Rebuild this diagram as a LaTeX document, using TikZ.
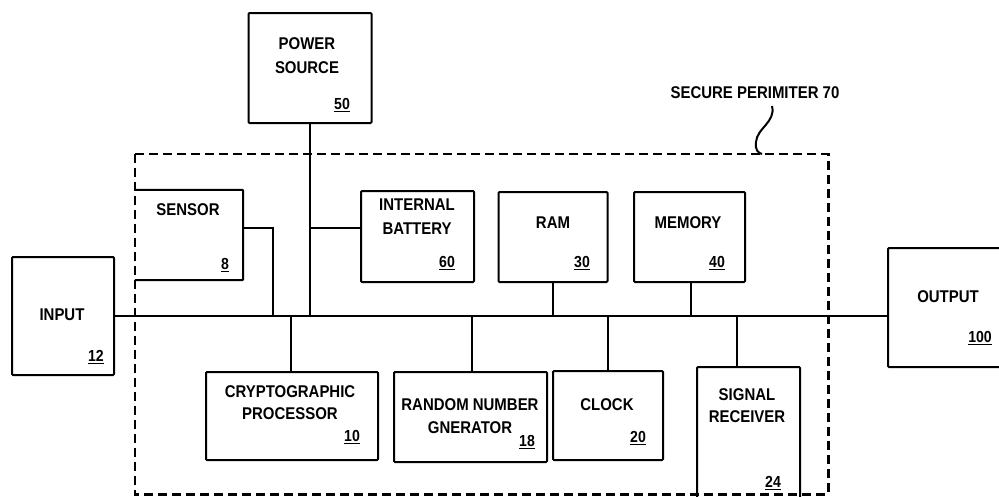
\documentclass[tikz,border=0pt]{standalone}
\usepackage{fontspec}
\setmainfont[FakeStretch=0.88]{Liberation Sans}
\begin{document}
\begin{tikzpicture}[x=1pt,y=-1pt,
  box/.style={draw,line width=2pt,inner sep=0pt,rounded corners=1pt},
  blank/.style={draw=none,inner sep=0pt},
  lbl/.style={font=\fontsize{17}{24}\selectfont\bfseries,align=center,inner sep=0pt},
  num/.style={font=\fontsize{16}{16}\selectfont\bfseries,inner sep=0pt},
  wire/.style={line width=2pt},
  perim/.style={line width=2.6pt,dash pattern=on 9pt off 5pt}]
\useasboundingbox (0,0) rectangle (999,496);
\clip (0,0) rectangle (999,496);
\fill[white] (0,0) rectangle (999,496);

% boxes
\node[box,minimum width=123pt,minimum height=110pt] (power) at (310,68) {};
\node[blank,minimum width=108pt,minimum height=90pt] (sensor) at (189,235) {};
\node[box,minimum width=113pt,minimum height=91pt] (battery) at (417.5,236.5) {};
\node[box,minimum width=109pt,minimum height=90pt] (ram) at (553,237) {};
\node[box,minimum width=111pt,minimum height=90pt] (memory) at (689.5,237) {};
\node[box,minimum width=102pt,minimum height=118pt] (input) at (63,316) {};
\node[box,minimum width=122pt,minimum height=119pt] (output) at (949,307.5) {};
\node[box,minimum width=172pt,minimum height=88pt] (crypto) at (292,416) {};
\node[box,minimum width=153pt,minimum height=90pt] (rng) at (470.5,417) {};
\node[box,minimum width=110pt,minimum height=89pt] (clock) at (608,415.5) {};
\node[box,minimum width=103pt,minimum height=143pt] (signal) at (748.5,438.5) {};
\node[blank,minimum width=693pt,minimum height=340pt] (perimeter) at (481.5,324) {};

% secure perimeter
\draw[perim] (perimeter.north west) rectangle (perimeter.south east);
\draw[wire,rounded corners=1pt] (sensor.north west) -- (sensor.north east) -- (sensor.south east) -- (sensor.south west);

% texts
\node[lbl] (tpower) at (307,55.5) {POWER\\SOURCE};
\node[num] (npower) at (342,105) {\underline{50}};
\node[lbl] (tsensor) at (188,210) {SENSOR};
\node[num] (nsensor) at (225,265) {\underline{8}};
\node[lbl] (tbattery) at (417,217) {INTERNAL\\BATTERY};
\node[num] (nbattery) at (447,263) {\underline{60}};
\node[lbl] (tram) at (553,223) {RAM};
\node[num] (nram) at (582,263) {\underline{30}};
\node[lbl] (tmemory) at (688,223) {MEMORY};
\node[num] (nmemory) at (717,263) {\underline{40}};
\node[lbl] (tinput) at (62,315) {INPUT};
\node[num] (ninput) at (96,357) {\underline{12}};
\node[lbl] (toutput) at (948,297) {OUTPUT};
\node[num] (noutput) at (980,338) {\underline{100}};
\node[lbl,font=\fontsize{17}{22}\selectfont\bfseries] (tcrypto) at (290,403) {CRYPTOGRAPHIC\\PROCESSOR};
\node[num] (ncrypto) at (352,437) {\underline{10}};
\node[lbl,font=\fontsize{17}{23}\selectfont\bfseries] (trng) at (470,416.5) {RANDOM NUMBER\\GNERATOR};
\node[num] (nrng) at (527,442) {\underline{18}};
\node[lbl] (tclock) at (607,405) {CLOCK};
\node[num] (nclock) at (638,438) {\underline{20}};
\node[lbl,font=\fontsize{17}{22}\selectfont\bfseries] (tsignal) at (747,406) {SIGNAL\\RECEIVER};
\node[num] (nsignal) at (773,483) {\underline{24}};
\node[lbl] (tperim) at (755,93) {SECURE PERIMITER 70};

% squiggle
\coordinate (sq1) at (772,106);
\coordinate (sq2) at (762,154);
\draw[wire] (sq1) .. controls (776,122) and (757,128) .. (756,142) .. controls (755,150) and (758,153) .. (sq2);

% bus and connectors
\coordinate (sj) at (273,316);
\draw[wire] (input.east) -- (input.east -| output.west);
\draw[wire] (power.south) -- (power.south |- input.east);
\draw[wire] ([yshift=8.5pt]battery.west) -- ([yshift=8.5pt]battery.west -| power.south);
\draw[wire] ([yshift=7pt]sensor.east) -| (sj);
\draw[wire] (ram.south) -- (ram.south |- input.east);
\draw[wire] ([xshift=1.5pt]memory.south) -- ([xshift=1.5pt]memory.south |- input.east);
\draw[wire] ([xshift=-1pt]crypto.north) -- ([xshift=-1pt]crypto.north |- input.east);
\draw[wire] ([xshift=1.5pt]rng.north) -- ([xshift=1.5pt]rng.north |- input.east);
\draw[wire] (clock.north) -- (clock.north |- input.east);
\draw[wire] ([xshift=-11.5pt]signal.north) -- ([xshift=-11.5pt]signal.north |- input.east);
\end{tikzpicture}
\end{document}
